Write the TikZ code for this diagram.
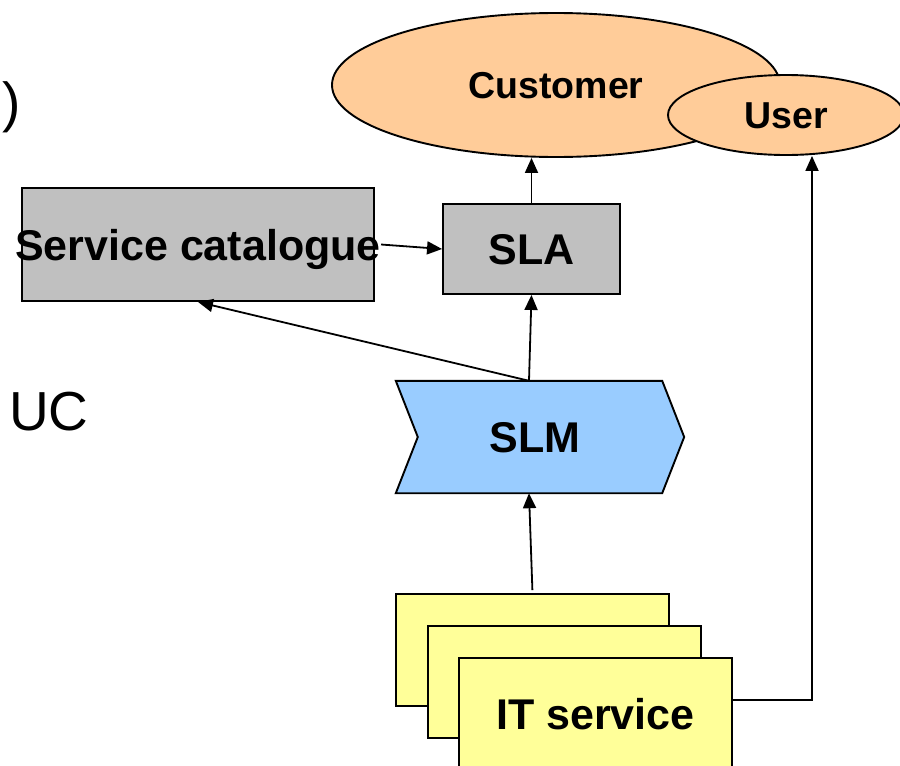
\documentclass[tikz,border=0pt]{standalone}
\usepackage{fontspec}
\setmainfont{Liberation Sans}
\usetikzlibrary{shapes.geometric,arrows.meta,calc}
\definecolor{peach}{HTML}{FFCC99}
\definecolor{boxgrey}{HTML}{C0C0C0}
\definecolor{slmblue}{HTML}{99CCFF}
\definecolor{cardyellow}{HTML}{FFFF99}
\begin{document}
\begin{tikzpicture}[x=1pt,y=-1pt,
  outline/.style={draw=black,line width=1.9pt},
  boxlabel/.style={font=\bfseries\fontsize{43}{50}\selectfont,inner sep=0pt,text height=31pt,text depth=0pt},
  ovallabel/.style={font=\bfseries\fontsize{37.5}{44}\selectfont,inner sep=0pt,text height=27pt,text depth=0pt},
  greybox/.style={outline,fill=boxgrey,rectangle,inner sep=0pt},
  oval/.style={outline,fill=peach,ellipse,inner sep=0pt,ovallabel},
  itcard/.style={outline,fill=cardyellow,rectangle,inner sep=0pt,minimum width=273pt,minimum height=112pt},
  plain/.style={font=\fontsize{55}{62}\selectfont,inner sep=0pt,anchor=base west},
  link/.style={line width=1.8pt,-{Triangle[length=15pt,width=13pt]}}]
\clip (0,0) rectangle (900,766);

% side text
\node[plain] (paren) at (2,121.5) {)};
\node[plain] (uc) at (9,430) {UC};

% customer and user
\node[oval,minimum width=448pt,minimum height=144pt] (cust) at (556,85) {Customer};
\node[oval,minimum width=236pt,minimum height=80pt] (user) at (786,115) {User};

% catalogue and SLA
\node[greybox,minimum width=352pt,minimum height=113pt] (cat) at (198,244.5) {};
\node[boxlabel] (cattext) at (cat.center) {Service catalogue};
\node[greybox,boxlabel,minimum width=177pt,minimum height=90pt] (sla) at (531.5,249) {SLA};

% SLM process chevron
\node[inner sep=0pt,minimum width=266pt,minimum height=112pt] (slmframe) at (529,437) {};
\draw[outline,fill=slmblue] (slmframe.north west) -- (slmframe.north east)
  -- ($(slmframe.east)+(22,0)$) -- (slmframe.south east) -- (slmframe.south west)
  -- ($(slmframe.west)+(22,0)$) -- cycle;
\node[boxlabel] (slm) at ($(slmframe.center)+(6,0)$) {SLM};

% stack of IT services
\node[itcard] (it1) at (532.5,650) {};
\node[itcard] (it2) at (564.5,682) {};
\node[itcard,boxlabel] (it3) at (595.5,714) {IT service};

% connectors
\draw[link] (sla.north) -- (sla.north |- cust.south);
\draw[link] (cattext.east) -- (sla.west);
\draw[link] (slmframe.north) -- (sla.south);
\draw[link] (slmframe.north) -- (cat.south);
\draw[link,shorten <=3pt] (it1.north) -- (slmframe.south);
\coordinate (bend) at (812,700);
\draw[link] (it3.east |- bend) -- (bend) -- (bend |- user.south);
\end{tikzpicture}
\end{document}
